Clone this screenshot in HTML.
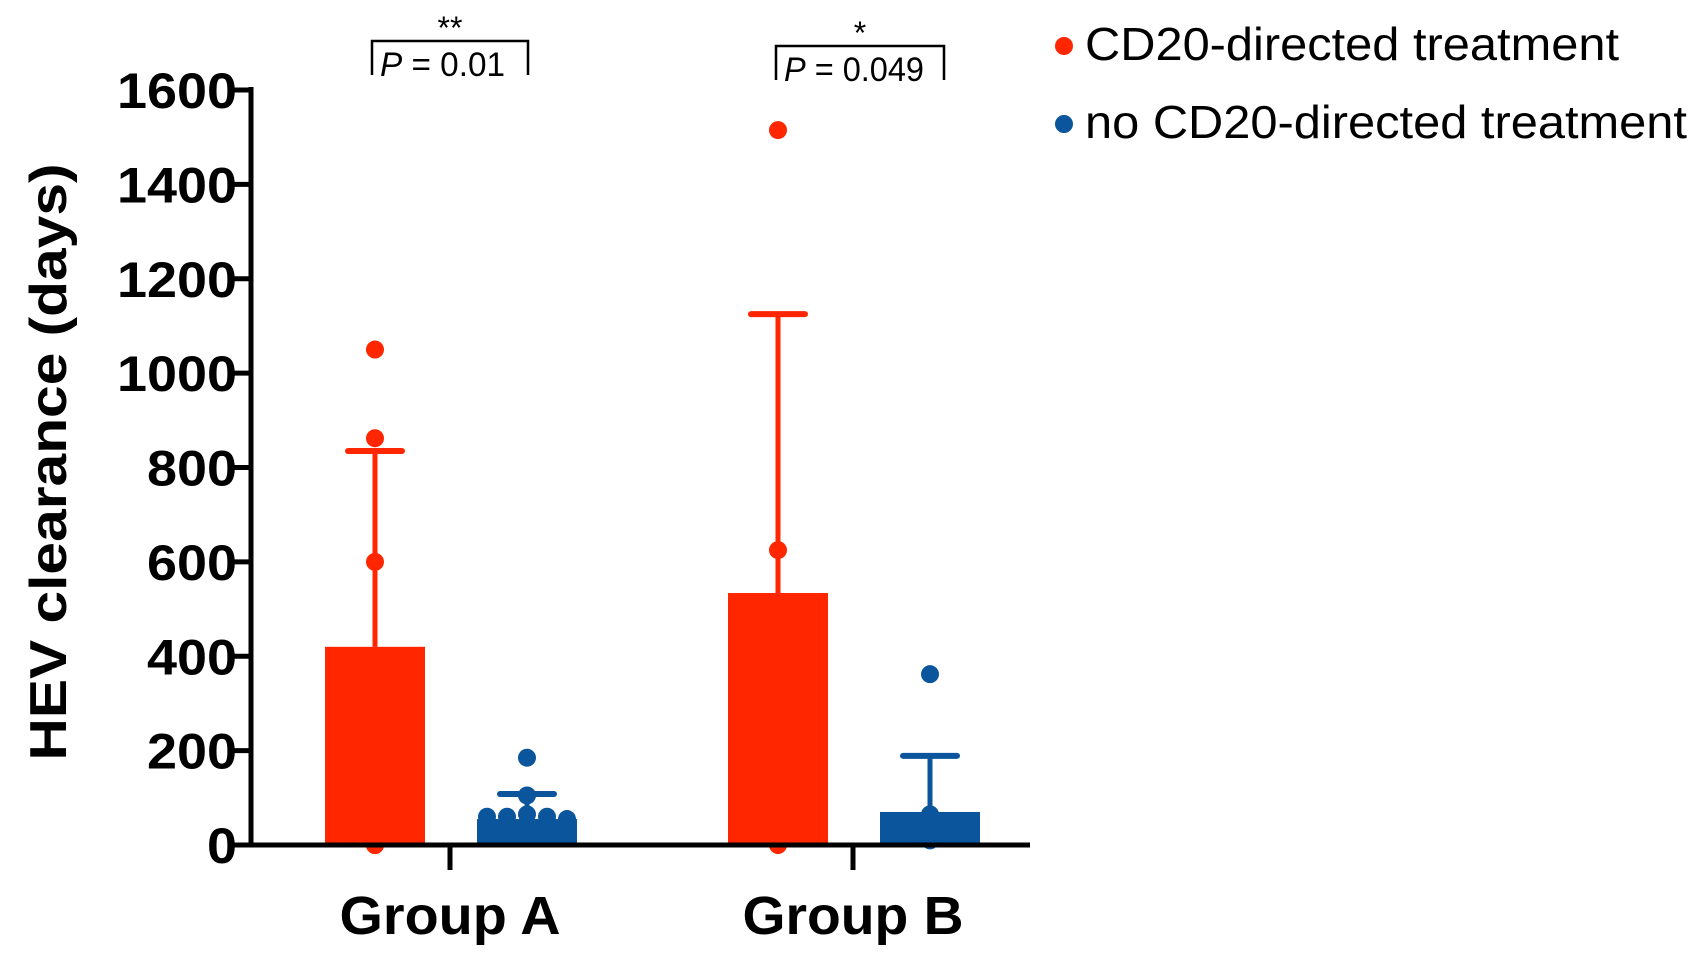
<!DOCTYPE html>
<html><head><meta charset="utf-8"><style>
html,body{margin:0;padding:0;background:#fff;}
svg{display:block;font-family:"Liberation Sans",Arial,sans-serif;}
</style></head><body>
<svg id="chart" width="1700" height="955" viewBox="0 0 1700 955">
<g id="plot"></g>
</svg>
<script>
const groups = ["Group A", "Group B"];
const seriesNames = ["CD20-directed treatment", "no CD20-directed treatment"];
const meansCD20 = [420, 534];
const meansNo = [55, 70];
const sdTopCD20 = [835, 1125];
const sdTopNo = [108, 189];
const pointsCD20 = [[1050, 862, 600, 0, 0, 0], [1515, 625, 0]];
const pointsNo = [[185, 105, 65, 60, 55, 60, 60, 20, 15, 15], [362, 65, 10, 10]];
const yTicks = [0, 200, 400, 600, 800, 1000, 1200, 1400, 1600];
const pLabels = ["= 0.01", "= 0.049"];
const stars = ["**", "*"];

const NS = "http://www.w3.org/2000/svg";
const svg = document.getElementById("plot");
const y0 = 845, yTop = 90, yMax = 1600;
function yS(v){ return y0 - v / yMax * (y0 - yTop); }
function gx(i){ return 450 + i * 403; }
const colors = ["#ff2600", "#0a559c"];
function el(tag, attrs, text){
  const e = document.createElementNS(NS, tag);
  for (const k in attrs) e.setAttribute(k, attrs[k]);
  if (text !== undefined) e.textContent = text;
  svg.appendChild(e);
  return e;
}
[[meansCD20, sdTopCD20, pointsCD20], [meansNo, sdTopNo, pointsNo]].forEach((s, si) => {
  groups.forEach((g, gi) => {
    const cx = gx(gi) + (si === 0 ? -75 : 77);
    const c = colors[si];
    const err = el("line", {x1: cx, x2: cx, y1: yS(s[0][gi]), y2: yS(s[1][gi]), stroke: c, "stroke-width": 5});
    
    
    const cap = el("line", {x1: cx - 27, x2: cx + 27, y1: yS(s[1][gi]), y2: yS(s[1][gi]), stroke: c, "stroke-width": 6, "stroke-linecap": "round"});
    
    
    const b = el("rect", {x: cx - 50, y: yS(s[0][gi]), width: 100, height: y0 - yS(s[0][gi]), fill: c});
    
    
    const pts = s[2][gi];
    pts.forEach((v, pi) => {
      let off = 0;
      if (si === 1 && v < 100 && pts.length > 4) off = ((pi % 5) - 2) * 20;
      const p = el("circle", {cx: cx + off, cy: yS(v), r: 9, fill: c});
      
      
    });
  });
});
const ya = el("line", {x1: 251, x2: 251, y1: yTop - 3, y2: y0 + 2, stroke: "#000", "stroke-width": 5});


const xa = el("line", {x1: 249, x2: 1030, y1: y0, y2: y0, stroke: "#000", "stroke-width": 5});


yTicks.forEach(t => {
  const tk = el("line", {x1: 232, x2: 251, y1: yS(t), y2: yS(t), stroke: "#000", "stroke-width": 5});
  
  
  const s = String(t);
  const tl = el("text", {x: 237, y: yS(t) + 18, "text-anchor": "end", "font-size": 50, "font-weight": "bold", textLength: 30 * s.length, lengthAdjust: "spacingAndGlyphs"}, s);
  
  
});
groups.forEach((g, gi) => {
  const tk = el("line", {x1: gx(gi), x2: gx(gi), y1: y0, y2: y0 + 25, stroke: "#000", "stroke-width": 5});
  
  
  const tl = el("text", {x: gx(gi), y: 934, "text-anchor": "middle", "font-size": 54, "font-weight": "bold", textLength: 221, lengthAdjust: "spacingAndGlyphs"}, g);
  
  
  const bx1 = gi === 0 ? 372 : 776, bx2 = gi === 0 ? 528 : 944, bt = gi === 0 ? 41 : 46;
  const br = el("path", {d: `M${bx1} ${bt+34} V${bt} H${bx2} V${bt+34}`, fill: "none", stroke: "#000", "stroke-width": 2.5});
  
  
  const st = el("text", {x: (bx1 + bx2) / 2, y: bt - 2, "text-anchor": "middle", "font-size": 32}, stars[gi]);
  
  
  const pt = el("text", {x: bx1 + 8, y: bt + 35, "font-size": 34, textLength: gi === 0 ? 125 : 140, lengthAdjust: "spacingAndGlyphs"});
  
  
  const ti = document.createElementNS(NS, "tspan"); ti.setAttribute("font-style", "italic"); ti.textContent = "P";
  const tv = document.createElementNS(NS, "tspan"); tv.textContent = " " + pLabels[gi];
  pt.appendChild(ti); pt.appendChild(tv);
});
const yt = el("text", {x: 0, y: 0, transform: "translate(66,462) rotate(-90)", "text-anchor": "middle", "font-size": 52, "font-weight": "bold", textLength: 597, lengthAdjust: "spacingAndGlyphs"}, "HEV clearance (days)");


const legW = [534, 602];
seriesNames.forEach((n, i) => {
  const ly = 43 + i * 78;
  const d = el("circle", {cx: 1064, cy: ly + 3, r: 9, fill: colors[i]});
  
  
  const t = el("text", {x: 1085, y: ly + 17, "font-size": 46, textLength: legW[i], lengthAdjust: "spacingAndGlyphs"}, n);
  
  
});
</script>
</body></html>
